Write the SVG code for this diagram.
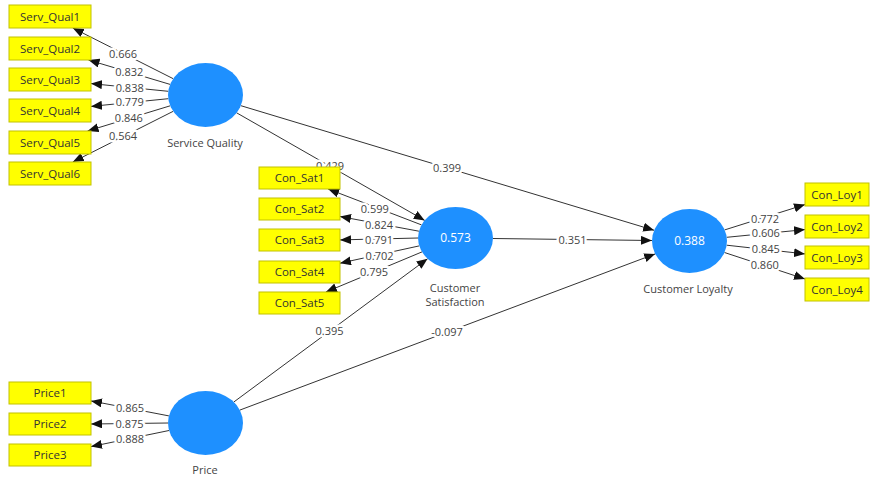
<svg xmlns="http://www.w3.org/2000/svg" width="879" height="479" viewBox="0 0 879 479">
<defs>
<style>
.box{fill:#ffff00;stroke:#c2c200;stroke-width:1}
.bt{font-family:"Open Sans","Noto Sans",sans-serif;font-size:11.5px;fill:#333;text-anchor:middle}
.lv{fill:#1e90ff}
.lt{font-family:"Open Sans","Noto Sans",sans-serif;font-size:11px;fill:#444;text-anchor:middle}
.vt{font-family:"Open Sans","Noto Sans",sans-serif;font-size:12px;fill:#ffffff;text-anchor:middle}
.ln{stroke:#333;stroke-width:1;fill:none;marker-end:url(#ah)}
.w{font-family:"Open Sans","Noto Sans",sans-serif;font-size:11px;fill:#444;text-anchor:middle;stroke:#fff;stroke-width:5;paint-order:stroke;stroke-linejoin:round}
</style>
<marker id="ah" markerUnits="userSpaceOnUse" markerWidth="12" markerHeight="10" refX="11" refY="4.5" orient="auto">
<path d="M0,0 L11,4.5 L0,9 Z" fill="#111"/>
</marker>
</defs>
<rect width="879" height="479" fill="#fff"/>
<g id="connectors">
<line class="ln" x1="173.2" y1="78.7" x2="72.8" y2="28"/>
<line class="ln" x1="170.1" y1="84.4" x2="88.5" y2="60"/>
<line class="ln" x1="168.3" y1="91.3" x2="91" y2="83.6"/>
<line class="ln" x1="168.3" y1="98.7" x2="91" y2="106.4"/>
<line class="ln" x1="170.2" y1="105.8" x2="87.6" y2="131"/>
<line class="ln" x1="173.2" y1="111.3" x2="72.8" y2="162"/>
<line class="ln" x1="168.9" y1="415.9" x2="91" y2="400.9"/>
<line class="ln" x1="168" y1="423" x2="91" y2="424"/>
<line class="ln" x1="169" y1="430.5" x2="91" y2="446.6"/>
<line class="ln" x1="421.5" y1="224.9" x2="328.1" y2="189"/>
<line class="ln" x1="418.9" y1="231.2" x2="340" y2="216.5"/>
<line class="ln" x1="418" y1="238" x2="340" y2="239.9"/>
<line class="ln" x1="419.2" y1="245.9" x2="340" y2="263.2"/>
<line class="ln" x1="422" y1="251.9" x2="325.9" y2="292"/>
<line class="ln" x1="724.7" y1="229.9" x2="805" y2="204.6"/>
<line class="ln" x1="726.7" y1="237.3" x2="805" y2="229.6"/>
<line class="ln" x1="726.7" y1="245.2" x2="805" y2="253.9"/>
<line class="ln" x1="724.5" y1="252.5" x2="805" y2="279"/>
<line class="ln" x1="236.6" y1="112.8" x2="424.7" y2="220.4"/>
<line class="ln" x1="240.9" y1="105.7" x2="654.1" y2="230.3"/>
<line class="ln" x1="493" y1="238.5" x2="652" y2="240.5"/>
<line class="ln" x1="233.8" y1="402" x2="427.6" y2="258.7"/>
<line class="ln" x1="239.8" y1="410.1" x2="655.2" y2="253.9"/>
<text class="w" x="123" y="57.5">0.666</text>
<text class="w" x="129.3" y="76">0.832</text>
<text class="w" x="129.7" y="91.5">0.838</text>
<text class="w" x="129.7" y="105.5">0.779</text>
<text class="w" x="128.9" y="122">0.846</text>
<text class="w" x="123" y="140">0.564</text>
<text class="w" x="130" y="412">0.865</text>
<text class="w" x="129.5" y="427.5">0.875</text>
<text class="w" x="130" y="442.5">0.888</text>
<text class="w" x="374.8" y="212.5">0.599</text>
<text class="w" x="379" y="228.5">0.824</text>
<text class="w" x="379" y="243.5">0.791</text>
<text class="w" x="379.6" y="259.5">0.702</text>
<text class="w" x="374" y="275.5">0.795</text>
<text class="w" x="765" y="222.5">0.772</text>
<text class="w" x="765.9" y="237">0.606</text>
<text class="w" x="765.9" y="253">0.845</text>
<text class="w" x="764.7" y="268.5">0.860</text>
<text class="w" x="330" y="170">0.429</text>
<text class="w" x="447" y="172">0.399</text>
<text class="w" x="572.5" y="243.5">0.351</text>
<text class="w" x="329.5" y="335">0.395</text>
<text class="w" x="447" y="336">-0.097</text>
</g>
<g id="SQ1"><rect class="box" x="9" y="5" width="82" height="23"/><text class="bt" x="50" y="20.5">Serv_Qual1</text></g>
<g id="SQ2"><rect class="box" x="9" y="37" width="82" height="23"/><text class="bt" x="50" y="52.5">Serv_Qual2</text></g>
<g id="SQ3"><rect class="box" x="9" y="68" width="82" height="23"/><text class="bt" x="50" y="83.5">Serv_Qual3</text></g>
<g id="SQ4"><rect class="box" x="9" y="99" width="82" height="23"/><text class="bt" x="50" y="114.5">Serv_Qual4</text></g>
<g id="SQ5"><rect class="box" x="9" y="131" width="82" height="23"/><text class="bt" x="50" y="146.5">Serv_Qual5</text></g>
<g id="SQ6"><rect class="box" x="9" y="162" width="82" height="23"/><text class="bt" x="50" y="177.5">Serv_Qual6</text></g>
<g id="P1"><rect class="box" x="9" y="382" width="82" height="22"/><text class="bt" x="50" y="397">Price1</text></g>
<g id="P2"><rect class="box" x="9" y="413" width="82" height="22"/><text class="bt" x="50" y="428">Price2</text></g>
<g id="P3"><rect class="box" x="9" y="444" width="82" height="22"/><text class="bt" x="50" y="459">Price3</text></g>
<g id="CS1"><rect class="box" x="259" y="167" width="81" height="22"/><text class="bt" x="299.5" y="182">Con_Sat1</text></g>
<g id="CS2"><rect class="box" x="259" y="198" width="81" height="22"/><text class="bt" x="299.5" y="213">Con_Sat2</text></g>
<g id="CS3"><rect class="box" x="259" y="229" width="81" height="22"/><text class="bt" x="299.5" y="244">Con_Sat3</text></g>
<g id="CS4"><rect class="box" x="259" y="261" width="81" height="22"/><text class="bt" x="299.5" y="276">Con_Sat4</text></g>
<g id="CS5"><rect class="box" x="259" y="292" width="81" height="22"/><text class="bt" x="299.5" y="307">Con_Sat5</text></g>
<g id="CL1"><rect class="box" x="805" y="183" width="64" height="23"/><text class="bt" x="837" y="198.5">Con_Loy1</text></g>
<g id="CL2"><rect class="box" x="805" y="215" width="64" height="23"/><text class="bt" x="837" y="230.5">Con_Loy2</text></g>
<g id="CL3"><rect class="box" x="805" y="246" width="64" height="23"/><text class="bt" x="837" y="261.5">Con_Loy3</text></g>
<g id="CL4"><rect class="box" x="805" y="278" width="64" height="23"/><text class="bt" x="837" y="293.5">Con_Loy4</text></g>
<g id="ServiceQuality"><ellipse class="lv" cx="205.5" cy="95" rx="37.5" ry="32"/><text class="lt" x="205" y="147">Service Quality</text></g>
<g id="Price"><ellipse class="lv" cx="205.5" cy="423" rx="37.5" ry="32"/><text class="lt" x="205" y="474">Price</text></g>
<g id="CustomerSatisfaction"><ellipse class="lv" cx="455.5" cy="238" rx="37.5" ry="31"/><text class="vt" x="455.5" y="242">0.573</text><text class="lt" x="455" y="292">Customer</text><text class="lt" x="455" y="306">Satisfaction</text></g>
<g id="CustomerLoyalty"><ellipse class="lv" cx="689.5" cy="241" rx="37.5" ry="32"/><text class="vt" x="689.5" y="245">0.388</text><text class="lt" x="688" y="293">Customer Loyalty</text></g>
</svg>
